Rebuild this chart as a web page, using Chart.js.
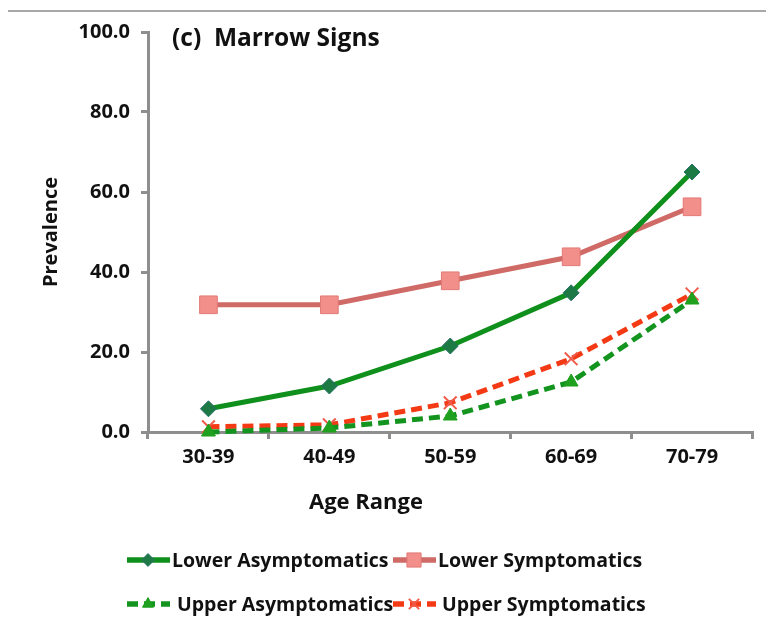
<!DOCTYPE html>
<html>
<head>
<meta charset="utf-8">
<script src="https://cdn.jsdelivr.net/npm/chart.js@4"></script>
<style>
  html, body { margin: 0; padding: 0; background: #fff; }
  #wrap { width: 766px; height: 630px; }
</style>
</head>
<body>
<div id="wrap"><canvas id="marrow-chart" width="766" height="630"></canvas></div>
<script>
// MARROW SIGNS - prevalence by age range
const ageRanges = ['30-39', '40-49', '50-59', '60-69', '70-79'];
const lowerAsymptomatics = [5.8, 11.5, 21.5, 34.8, 65.0];
const lowerSymptomatics = [31.8, 31.8, 37.8, 43.8, 56.3];
const upperAsymptomatics = [0.0, 1.0, 4.0, 12.5, 33.0];
const upperSymptomatics = [1.3, 1.8, 7.3, 18.3, 34.5];
const yTicks = [0, 20, 40, 60, 80, 100];

const FONT = '"Open Sans", Lato, sans-serif';
const AXIS_GREY = '#8e8e8e';

// legend + title + top rule, drawn straight on the canvas
const extras = {
    id: 'extras',
    beforeDraw(chart) {
        const ctx = chart.ctx;
        ctx.save();
        ctx.strokeStyle = '#a8a8a8';
        ctx.lineWidth = 2;
        ctx.beginPath();
        ctx.moveTo(8, 11);
        ctx.lineTo(766, 11);
        ctx.stroke();
        ctx.restore();
    },
    afterDraw(chart) {
        const ctx = chart.ctx;
        const area = chart.chartArea;
        ctx.save();
        ctx.fillStyle = '#111';
        ctx.textBaseline = 'middle';
        ctx.font = 'bold 24.5px ' + FONT;
        ctx.fillText('(c)  Marrow Signs', area.left + 24, 39);

        ctx.font = 'bold 22px ' + FONT;
        ctx.textAlign = 'center';
        ctx.fillText('Age Range', 366, 503);

        // legend
        const spots = [
            {x: 127, y: 560, tx: 172},
            {x: 393, y: 560, tx: 438},
            {x: 127, y: 604, tx: 177},
            {x: 393, y: 604, tx: 442}
        ];
        ctx.textAlign = 'left';
        ctx.font = 'bold 19.5px ' + FONT;
        chart.data.datasets.forEach((ds, i) => {
            const s = spots[i];
            ctx.save();
            ctx.strokeStyle = ds.borderColor;
            ctx.lineWidth = 5.5;
            ctx.setLineDash(ds.borderDash || []);
            ctx.beginPath();
            ctx.moveTo(s.x, s.y);
            ctx.lineTo(s.x + 43, s.y);
            ctx.stroke();
            ctx.setLineDash([]);
            ctx.fillStyle = ds.pointBackgroundColor;
            ctx.strokeStyle = ds.pointBorderColor;
            ctx.lineWidth = ds.pointBorderWidth;
            Chart.helpers.drawPoint(ctx, {
                pointStyle: ds.pointStyle,
                rotation: 0,
                radius: ds.pointRadius * 0.8,
                borderWidth: ds.pointBorderWidth
            }, s.x + 21, s.y);
            ctx.restore();
            ctx.fillStyle = '#111';
            ctx.fillText(ds.label, s.tx, s.y + 1);
        });
        ctx.restore();
    }
};

const marrowCtx = document.getElementById('marrow-chart').getContext('2d');

new Chart(marrowCtx, {
    type: 'line',
    data: {
        labels: ageRanges,
        datasets: [
            {
                label: 'Lower Asymptomatics',
                data: lowerAsymptomatics,
                borderColor: '#0f8f1c',
                borderWidth: 5,
                pointStyle: 'rectRot',
                pointRadius: 8,
                pointBackgroundColor: '#1d7a45',
                pointBorderColor: '#2a6f6a',
                pointBorderWidth: 1,
                clip: false
            },
            {
                label: 'Lower Symptomatics',
                data: lowerSymptomatics,
                borderColor: '#cf6a66',
                borderWidth: 5,
                pointStyle: 'rect',
                pointRadius: 12.5,
                pointBackgroundColor: '#f28f8b',
                pointBorderColor: '#e27a76',
                pointBorderWidth: 1,
                clip: false
            },
            {
                label: 'Upper Asymptomatics',
                data: upperAsymptomatics,
                borderColor: '#13941f',
                borderWidth: 5,
                borderDash: [11, 6],
                pointStyle: 'triangle',
                pointRadius: 8,
                pointBackgroundColor: '#1fa01f',
                pointBorderColor: '#1fa01f',
                pointBorderWidth: 1,
                clip: false
            },
            {
                label: 'Upper Symptomatics',
                data: upperSymptomatics,
                borderColor: '#f43a14',
                borderWidth: 5,
                borderDash: [11, 6],
                pointStyle: 'crossRot',
                pointRadius: 9,
                pointBackgroundColor: '#f05a4a',
                pointBorderColor: '#f05a4a',
                pointBorderWidth: 2,
                clip: false
            }
        ]
    },
    options: {
        responsive: false,
        animation: false,
        events: [],
        layout: { padding: { top: 32, right: 8, bottom: 98, left: 0 } },
        plugins: {
            legend: { display: false },
            tooltip: { enabled: false }
        },
        scales: {
            x: {
                offset: true,
                grid: {
                    offset: true,
                    drawOnChartArea: false,
                    drawTicks: true,
                    tickLength: 7,
                    color: AXIS_GREY,
                    lineWidth: 3
                },
                border: { color: AXIS_GREY, width: 3 },
                ticks: {
                    color: '#111',
                    padding: 6,
                    font: { family: FONT, size: 20, weight: 'bold' }
                },
                afterFit(scale) { scale.height = 100; }
            },
            y: {
                min: 0,
                max: 100,
                afterBuildTicks(scale) {
                    scale.ticks = yTicks.map(v => ({ value: v }));
                },
                grid: {
                    drawOnChartArea: false,
                    drawTicks: true,
                    tickLength: 7,
                    color: AXIS_GREY,
                    lineWidth: 3
                },
                border: { color: AXIS_GREY, width: 3 },
                ticks: {
                    color: '#111',
                    padding: 11,
                    font: { family: FONT, size: 20, weight: 'bold' },
                    callback: v => v.toFixed(1)
                },
                title: {
                    display: true,
                    text: 'Prevalence',
                    color: '#111',
                    padding: { top: 39, bottom: 0 },
                    font: { family: FONT, size: 20, weight: 'bold' }
                },
                afterFit(scale) { scale.width = 148; }
            }
        }
    },
    plugins: [extras]
});
</script>
</body>
</html>
